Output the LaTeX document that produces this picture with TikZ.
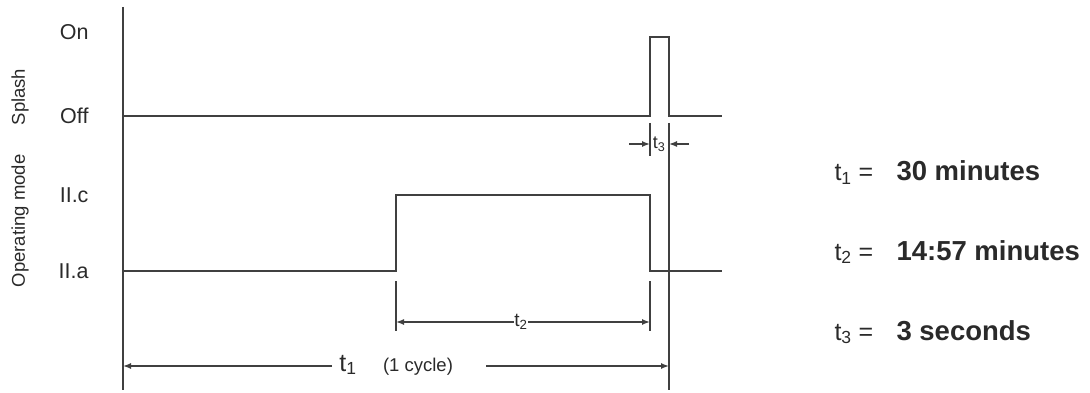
\documentclass[tikz,border=0pt]{standalone}
\usepackage{fontspec}
\setmainfont{Liberation Sans}
\usetikzlibrary{arrows.meta,positioning}
\definecolor{linegray}{HTML}{404040}
\definecolor{textgray}{HTML}{2A2A2A}

\begin{document}
\begin{tikzpicture}[x=1pt,y=-1pt,
        signal/.style={draw=linegray,line width=1.6pt},
        extline/.style={draw=linegray,line width=1.4pt},
        dimline/.style={draw=linegray,line width=1.4pt,-{Latex[length=8pt,width=6pt]}},
        level/.style={text=textgray,anchor=east,font=\fontsize{21.5}{23}\selectfont},
        axistitle/.style={text=textgray,rotate=90,font=\fontsize{18.5}{20}\selectfont},
        tlabel/.style={text=textgray,fill=white,inner sep=0.5pt,font=\fontsize{19}{21}\selectfont},
        resname/.style={text=textgray,anchor=base west,font=\fontsize{25}{27}\selectfont},
        resval/.style={text=textgray,anchor=base west,font=\bfseries\fontsize{27.5}{29}\selectfont}]
    \useasboundingbox (0,0) rectangle (1090,393);

    % axis and waveforms
    \coordinate (axtop) at (123,7);
    \coordinate (axbot) at (123,390);
    \draw[extline] (axtop) -- (axbot);
    \draw[signal] (123,116) -| (650,37) -| (669,116) -- (722,116);
    \draw[signal] (123,271) -| (396,195) -| (650,271) -- (722,271);

    % level labels
    \node[level] (on)  at (92,32)  {On};
    \node[level] (off) at (92,116) {Off};
    \node[level] (iic) at (92,195) {II.c};
    \node[level] (iia) at (92,271) {II.a};
    \node[axistitle] (splash) at (20,97)  {Splash};
    \node[axistitle] (opmode) at (20,221) {Operating mode};

    % extension lines
    \draw[extline] (650,123) -- (650,156);
    \draw[extline] (669,123) -- (669,390);
    \draw[extline] (396,281) -- (396,331);
    \draw[extline] (650,281) -- (650,331);

    % t3
    \coordinate (t3a) at (629,144);
    \coordinate (t3b) at (650,144);
    \coordinate (t3c) at (689,144);
    \coordinate (t3d) at (669,144);
    \draw[dimline] (t3a) -- (t3b);
    \draw[dimline] (t3c) -- (t3d);
    \node[text=textgray,inner sep=0pt,font=\fontsize{18}{20}\selectfont] (t3) at (659,144) {t\textsubscript{3}};

    % t2
    \coordinate (t2a) at (396,322);
    \coordinate (t2b) at (650,322);
    \draw[dimline,{Latex[length=8pt,width=6pt]}-{Latex[length=8pt,width=6pt]}] (t2a) -- (t2b);
    \node[tlabel] (t2) at (521,322) {t\textsubscript{2}};

    % t1
    \node[text=textgray,inner sep=1pt,font=\fontsize{25}{27}\selectfont] (t1) at (348,365) {t\textsubscript{1}};
    \node[text=textgray,inner sep=1pt,font=\fontsize{18.5}{20}\selectfont] (cycle) at (418,367) {(1 cycle)};
    \coordinate (t1a) at (123,366);
    \coordinate (t1b) at (669,366);
    \coordinate (t1c) at (332,366);
    \coordinate (t1d) at (486,366);
    \draw[dimline] (t1c) -- (t1a);
    \draw[dimline] (t1d) -- (t1b);

    % values
    \foreach \i/\y/\val in {1/181/30 minutes, 2/260/14:57 minutes, 3/340/3 seconds}{
        \node[resname] at (831,\y) {t\textsubscript{\i} =};
        \node[resval] at (893,\y) {\val};
    }
\end{tikzpicture}
\end{document}
